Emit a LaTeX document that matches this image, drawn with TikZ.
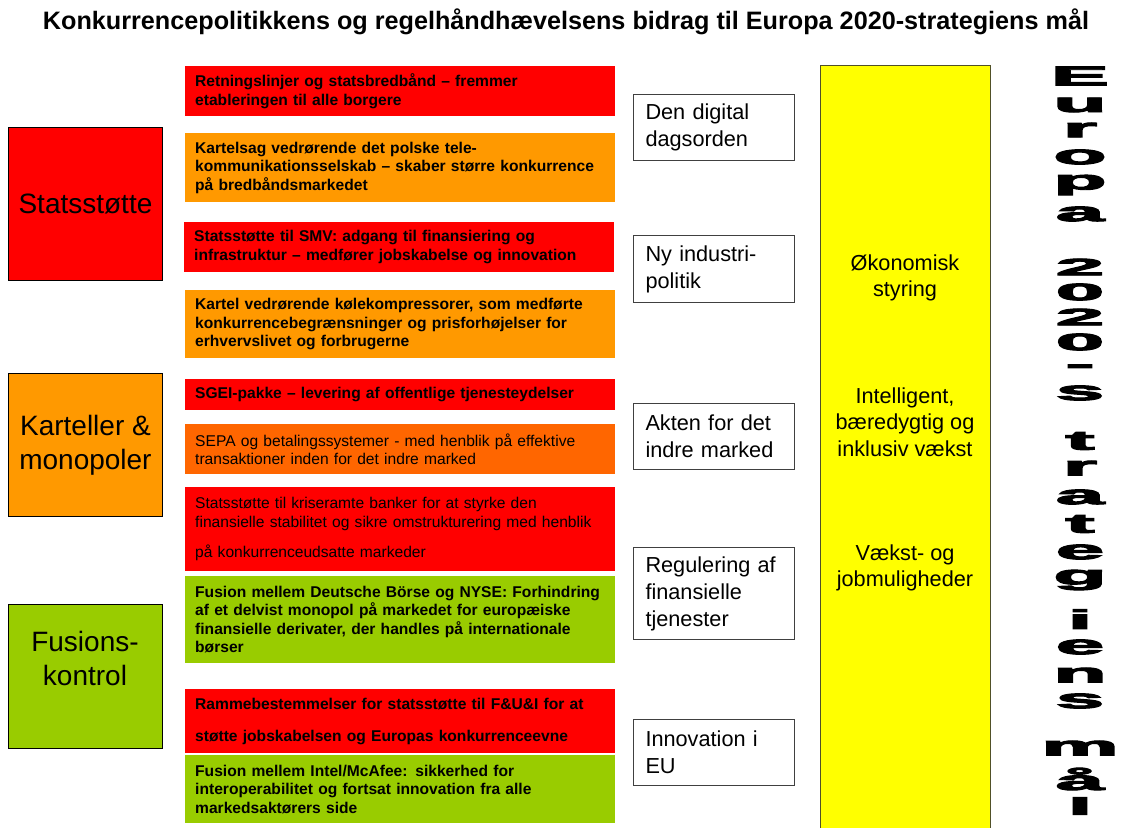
\documentclass[tikz,border=0pt]{standalone}
\usepackage{fontspec}
\setmainfont{Liberation Sans}
\newfontfamily\heavyfont[FakeBold=3.5]{Liberation Sans Bold}
\usepackage{graphicx}
\definecolor{cred}{HTML}{FF0000}
\definecolor{corange}{HTML}{FF9900}
\definecolor{csepa}{HTML}{FF6600}
\definecolor{cgreen}{HTML}{99CC00}
\definecolor{cyellow}{HTML}{FFFF00}
\definecolor{cframe}{HTML}{404040}
\definecolor{cyframe}{HTML}{505028}
\begin{document}
\begin{tikzpicture}[x=1pt,y=-1pt,
  catbox/.style={draw=black, line width=0.9pt, anchor=north west, minimum width=154, inner sep=0, align=center, font=\fontsize{28}{34}\selectfont},
  cattxt/.style={align=center, inner sep=0, font=\fontsize{28}{34}\selectfont},
  mbox/.style={anchor=north west, minimum width=430, inner xsep=10, inner ysep=0, text width=410, align=left, font=\bfseries\fontsize{15.6}{18.5}\selectfont},
  mnorm/.style={font=\fontsize{15.6}{18.5}\selectfont},
  wbox/.style={draw=cframe, line width=1pt, fill=white, anchor=north west, minimum width=161, inner xsep=12, inner ysep=0, text width=137, align=left, font=\fontsize{21.7}{27}\selectfont},
  ytxt/.style={align=center, inner sep=0, font=\fontsize{21.7}{26.5}\selectfont},
  vl/.style={inner sep=0, font=\heavyfont\fontsize{27}{27}\selectfont}
]
\useasboundingbox (0,0) rectangle (1121,827);
\fill[white] (0,0) rectangle (1121,827);

% title
\node[font=\bfseries\fontsize{25.2}{30}\selectfont, inner sep=0] (title) at (566,22)
  {Konkurrencepolitikkens og regelhåndhævelsens bidrag til Europa 2020-strategiens mål};

% category boxes
\node[catbox, fill=cred, minimum height=153] (ss) at (8,127) {Statsstøtte};
\node[catbox, fill=corange, minimum height=143] (km) at (8,373) {Karteller \&\\monopoler};
\node[catbox, fill=cgreen, minimum height=144] (fk) at (8,604) {};
\node[cattxt] (fkt) at (85,658) {Fusions-\\kontrol};

% middle boxes
\node[mbox, fill=cred, minimum height=50] (b1) at (185,66)
  {Retningslinjer og statsbredbånd – fremmer\\etableringen til alle borgere};
\node[mbox, fill=corange, minimum height=69] (b2) at (185,133)
  {Kartelsag vedrørende det polske tele-\\kommunikationsselskab – skaber større konkurrence\\på bredbåndsmarkedet};
\node[mbox, fill=cred, minimum height=50] (b3) at (184,222)
  {Statsstøtte til SMV: adgang til finansiering og\\infrastruktur – medfører jobskabelse og innovation};
\node[mbox, fill=corange, minimum height=68] (b4) at (185,290)
  {Kartel vedrørende kølekompressorer, som medførte\\konkurrencebegrænsninger og prisforhøjelser for\\erhvervslivet og forbrugerne};
\node[mbox, fill=cred, minimum height=31] (b5) at (185,379)
  {SGEI-pakke – levering af offentlige tjenesteydelser};
\node[mbox, mnorm, fill=csepa, minimum height=50] (b6) at (185,424)
  {SEPA og betalingssystemer - med henblik på effektive\\transaktioner inden for det indre marked};
\node[mbox, mnorm, fill=cred, minimum height=84] (b7) at (185,487)
  {Statsstøtte til kriseramte banker for at styrke den\\finansielle stabilitet og sikre omstrukturering med henblik\\[12pt]på konkurrenceudsatte markeder};
\node[mbox, fill=cgreen, minimum height=87] (b8) at (185,576)
  {Fusion mellem Deutsche Börse og NYSE: Forhindring\\af et delvist monopol på markedet for europæiske\\finansielle derivater, der handles på internationale\\børser};
\node[mbox, fill=cred, minimum height=64] (b9) at (185,689)
  {Rammebestemmelser for statsstøtte til F\&U\&I for at\\[13.5pt]støtte jobskabelsen og Europas konkurrenceevne};
\node[mbox, fill=cgreen, minimum height=68] (b10) at (185,755)
  {Fusion mellem Intel/McAfee: sikkerhed for\\interoperabilitet og fortsat innovation fra alle\\markedsaktørers side};

% white boxes
\node[wbox, minimum height=66] (w1) at (633,94) {Den digital\\dagsorden};
\node[wbox, minimum height=67] (w2) at (633,235) {Ny industri-\\politik};
\node[wbox, minimum height=66] (w3) at (633,403) {Akten for det\\indre marked};
\node[wbox, minimum height=92] (w4) at (633,547) {Regulering af\\finansielle\\tjenester};
\node[wbox, minimum height=66] (w5) at (633,719) {Innovation i\\EU};

% yellow column
\node[draw=cyframe, line width=1pt, fill=cyellow, anchor=north west, minimum width=170, minimum height=765, inner sep=0] (goal) at (820,65) {};
\node[ytxt] (y1) at (905,278) {Økonomisk\\styring};
\node[ytxt] (y2) at (905,422) {Intelligent,\\bæredygtig og\\inklusiv vækst};
\node[ytxt] (y3) at (905,568) {Vækst- og\\jobmuligheder};

% vertical title
\foreach \l/\yy/\sy [count=\i] in {E/76/1, u/105/1, r/130/1, o/157/1, p/185/1, a/214/1, 2/267/0.88, 0/292/0.88, 2/317/0.88, 0/342/0.88, -/369/1, s/393/1, t/441/1, r/468/1, a/497/1, t/524/1, e/552/1, g/580/1, i/619/1, e/647/1, n/675/1, s/701/1, m/748/1, å/779/1, l/806/0.9}
  \node[vl] (v\i) at (1080,\yy) {\scalebox{3.2}[\sy]{\l}};
\end{tikzpicture}
\end{document}
